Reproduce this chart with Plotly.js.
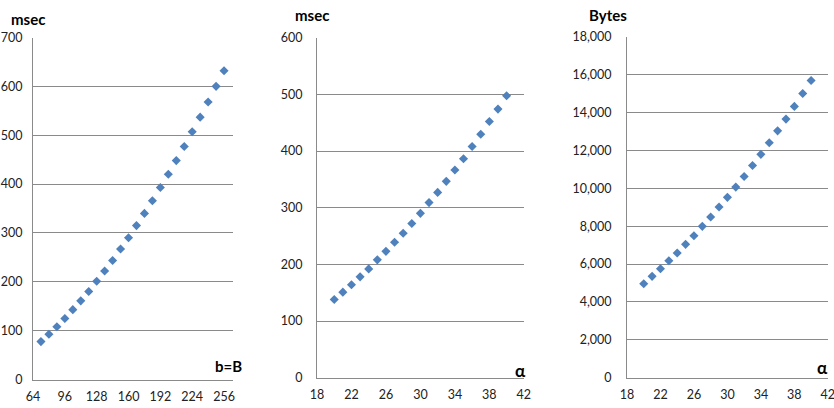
<!DOCTYPE html>
<html>
<head>
<meta charset="utf-8">
<script src="https://cdn.plot.ly/plotly-3.0.1.min.js"></script>
<style>
  html, body { margin: 0; padding: 0; background: #fff; }
  #chart { width: 834px; height: 408px; }
</style>
</head>
<body>
<div id="chart"></div>
<script>
// Panel 1: time vs block size b=B
const blockSize = [72, 80, 88, 96, 104, 112, 120, 128, 136, 144, 152, 160,
                   168, 176, 184, 192, 200, 208, 216, 224, 232, 240, 248, 256];
const timeByBlock = [77.6, 92.5, 108, 125, 143, 161, 180, 201, 222, 243.5, 267, 290,
                     315, 340, 366, 393, 420, 448, 477, 507, 537, 568, 600, 632];

// Panel 2: time vs alpha
const alphaA = [20, 21, 22, 23, 24, 25, 26, 27, 28, 29, 30,
                31, 32, 33, 34, 35, 36, 37, 38, 39, 40];
const timeByAlpha = [138, 151, 164, 178, 192, 208, 223, 239, 255, 272, 290,
                     309, 327, 346.5, 366.5, 386.5, 408, 429.5, 452, 474, 497.5];

// Panel 3: size in bytes vs alpha
const alphaB = alphaA.slice();
const bytesByAlpha = [4960, 5350, 5750, 6170, 6580, 7040, 7490, 7990, 8480, 9010, 9520,
                      10060, 10620, 11200, 11790, 12400, 13030, 13650, 14320, 15000, 15690];

// Axis tick labels
const xTicks1 = [64, 96, 128, 160, 192, 224, 256];
const xTicksAlpha = [18, 22, 26, 30, 34, 38, 42];

const W = 834, H = 408;
const px = x => x / W;
const py = y => 1 - y / H;

const fontFam = 'Lato, "Liberation Sans", sans-serif';
const tickFont = { family: fontFam, size: 12.5, color: '#222' };
const markerStyle = { symbol: 'diamond', size: 7, color: '#4F81BD' };
const gridCol = '#8a8a8a';

function trace(x, y, n) {
  return {
    x: x, y: y, type: 'scatter', mode: 'markers',
    xaxis: 'x' + (n === 1 ? '' : n), yaxis: 'y' + (n === 1 ? '' : n),
    marker: markerStyle, hoverinfo: 'x+y', showlegend: false,
    cliponaxis: false
  };
}

function xAxis(domain, range, ticks, anchor) {
  return {
    domain: domain, range: range, anchor: anchor,
    tickmode: 'array', tickvals: ticks, ticktext: ticks.map(String),
    showgrid: false, zeroline: false,
    showline: true, linecolor: gridCol, linewidth: 1,
    ticks: '', ticklabelstandoff: 5, ticklabeloverflow: 'allow',
    tickfont: tickFont
  };
}

function yAxis(domain, range, dtick, anchor, fmt, standoff) {
  return {
    domain: domain, range: range, anchor: anchor,
    dtick: dtick, tick0: 0, tickformat: fmt,
    showgrid: true, gridcolor: gridCol, gridwidth: 1,
    zeroline: false,
    showline: true, linecolor: gridCol, linewidth: 1,
    ticks: '', ticklabelstandoff: standoff, ticklabeloverflow: 'allow',
    tickfont: tickFont
  };
}

const data = [
  trace(blockSize, timeByBlock, 1),
  trace(alphaA, timeByAlpha, 2),
  trace(alphaB, bytesByAlpha, 3)
];

function label(text, x, y, anchor, size) {
  return {
    text: '<b>' + text + '</b>', xref: 'paper', yref: 'paper',
    x: px(x), y: py(y), xanchor: anchor || 'left', yanchor: 'middle',
    showarrow: false, font: { family: fontFam, size: size || 15, color: '#000' }
  };
}

const layout = {
  width: W, height: H,
  margin: { l: 0, r: 0, t: 0, b: 0 },
  paper_bgcolor: '#fff', plot_bgcolor: '#fff',
  xaxis:  xAxis([px(33), px(233)], [64, 265], xTicks1, 'y'),
  yaxis:  yAxis([py(379.5), py(37.5)], [0, 700], 100, 'x', '', 7),
  xaxis2: xAxis([px(317), px(524)], [18, 42.02], xTicksAlpha, 'y2'),
  yaxis2: yAxis([py(377.7), py(37.7)], [0, 600], 100, 'x2', '', 11),
  xaxis3: xAxis([px(627), px(828)], [18, 42.02], xTicksAlpha, 'y3'),
  yaxis3: yAxis([py(377.7), py(36.7)], [0, 18000], 2000, 'x3', ',', 12),
  annotations: [
    label('msec', 9, 19),
    label('msec', 293, 15),
    label('Bytes', 587, 15),
    label('b=B', 244, 366, 'right'),
    label('α', 528, 370, 'right', 17),
    label('α', 830, 367, 'right', 17)
  ]
};

Plotly.newPlot('chart', data, layout, { displayModeBar: false, staticPlot: true });
</script>
</body>
</html>
